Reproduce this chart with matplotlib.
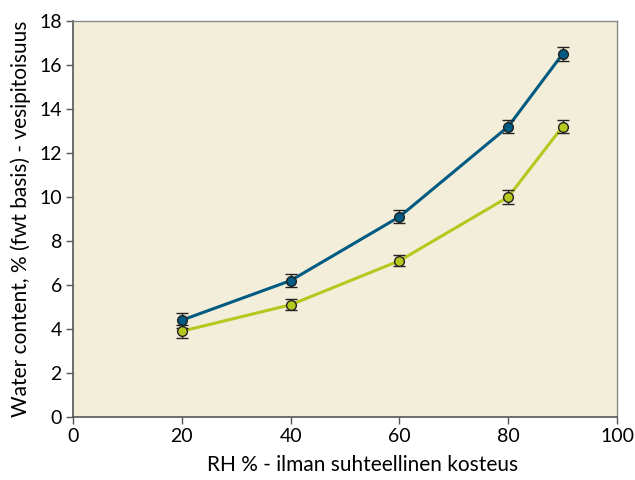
import matplotlib.pyplot as plt

rh = [20, 40, 60, 80, 90]
blue_vals = [4.4, 6.2, 9.1, 13.2, 16.5]
blue_err = [0.35, 0.3, 0.3, 0.3, 0.3]
green_vals = [3.9, 5.1, 7.1, 10.0, 13.2]
green_err = [0.3, 0.25, 0.25, 0.3, 0.3]

plt.rcParams['font.family'] = ['Lato', 'DejaVu Sans']

fig = plt.figure(figsize=(6.35, 4.8), dpi=100)
ax = fig.add_axes([73 / 635, 63 / 480, 544 / 635, 396 / 480])
ax.set_facecolor('#f2eed9')

for vals, err, col in [(blue_vals, blue_err, '#005a82'), (green_vals, green_err, '#b4c81e')]:
    ax.plot(rh, vals, color=col, lw=2.2, zorder=2)
    ax.errorbar(rh, vals, yerr=err, fmt='none', ecolor='#222222', elinewidth=1,
                capsize=4, capthick=1, zorder=3)
    ax.plot(rh, vals, 'o', color=col, ms=7, mec='#222222', mew=1, zorder=4)

ax.set_xlim(0, 100)
ax.set_ylim(0, 18)
ax.set_xticks(range(0, 101, 20))
ax.set_yticks(range(0, 19, 2))
ax.tick_params(direction='out', length=5, width=1, color='#555555', labelsize=14, pad=3)
for s in ['top', 'right']:
    ax.spines[s].set_color('#888888')
    ax.spines[s].set_linewidth(1)
for s in ['left', 'bottom']:
    ax.spines[s].set_color('#555555')
    ax.spines[s].set_linewidth(1.2)

ax.set_xlabel('RH % - ilman suhteellinen kosteus', fontsize=15, labelpad=9)
ax.xaxis.set_label_coords(0.533, -0.095)
ax.set_ylabel('Water content, % (fwt basis) - vesipitoisuus', fontsize=15, labelpad=6)

fig.savefig('out.png', dpi=100)
